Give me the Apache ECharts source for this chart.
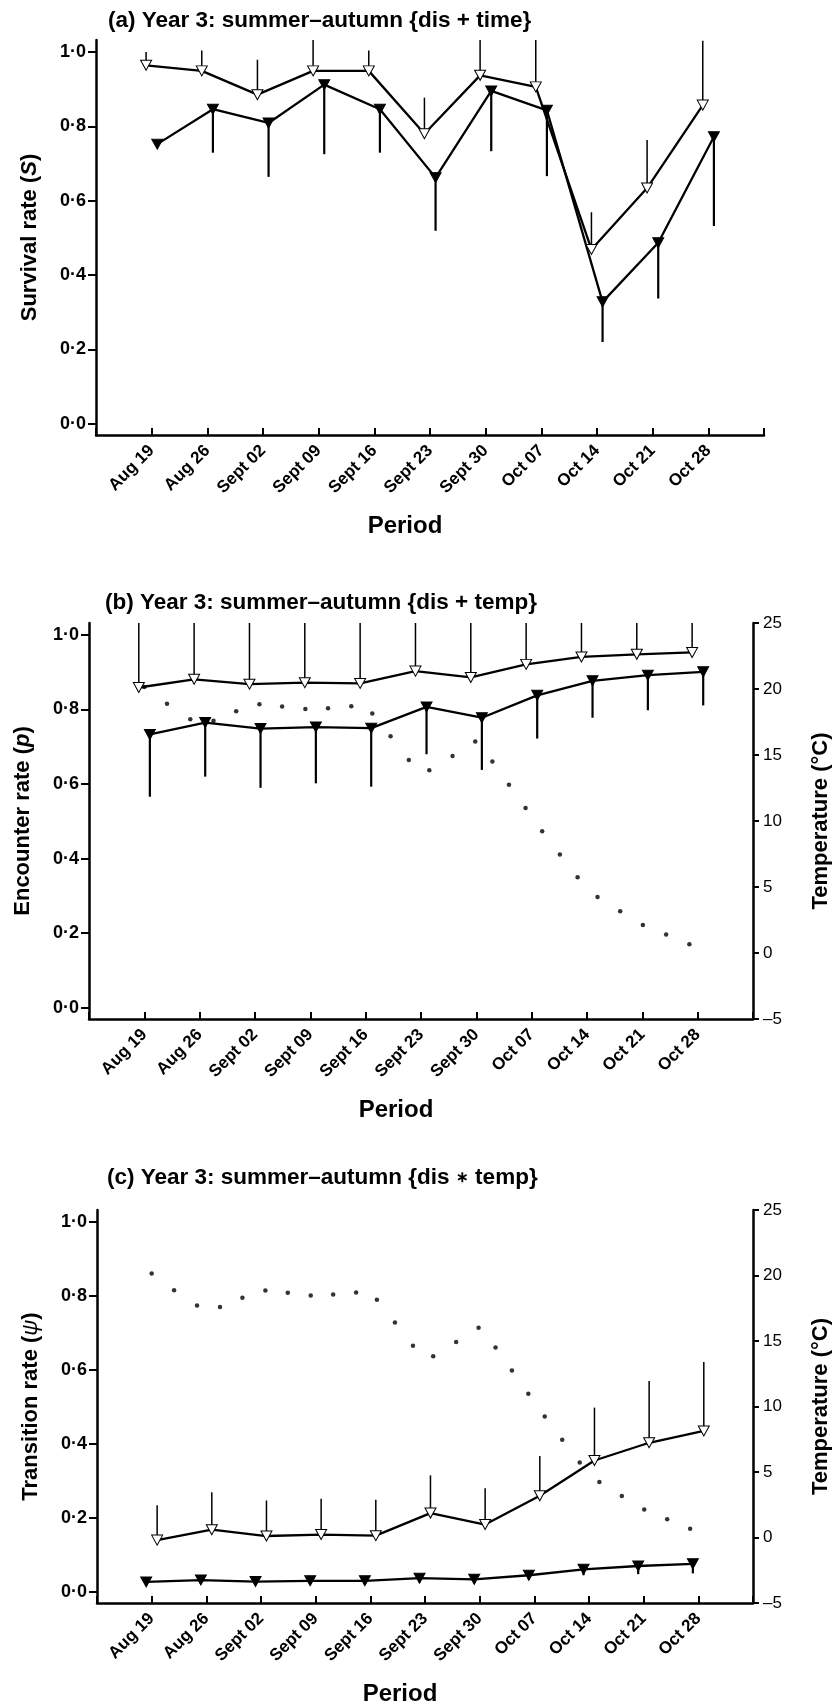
<!DOCTYPE html>
<html>
<head>
<meta charset="utf-8">
<title>Year 3: summer-autumn</title>
<script src="https://cdn.jsdelivr.net/npm/echarts@6.0.0/dist/echarts.min.js"></script>
<style>
  html, body { margin: 0; padding: 0; background: #fff; }
  #main { width: 840px; height: 1707px; }
</style>
</head>
<body>
<div id="main"></div>
<script>
// x axis categories (weekly periods)
var periods = ['Aug 19', 'Aug 26', 'Sept 02', 'Sept 09', 'Sept 16', 'Sept 23', 'Sept 30', 'Oct 07', 'Oct 14', 'Oct 21', 'Oct 28'];
var leftTicks = [0, 0.2, 0.4, 0.6, 0.8, 1.0];

// (a) survival rate S
var survOpen = [0.964, 0.949, 0.885, 0.949, 0.949, 0.780, 0.937, 0.906, 0.469, 0.634, 0.857];
var survOpenUp = [1.000, 1.004, 0.979, 1.040, 1.004, 0.877, 1.040, 1.040, 0.569, 0.763, 1.030];
var survFilled = [0.752, 0.846, 0.809, 0.912, 0.846, 0.662, 0.895, 0.843, 0.328, 0.487, 0.772];
var survFilledLo = [0.745, 0.729, 0.664, 0.725, 0.729, 0.519, 0.733, 0.666, 0.220, 0.337, 0.532];

// (b) encounter rate p
var encOpen = [0.859, 0.881, 0.868, 0.872, 0.870, 0.903, 0.886, 0.921, 0.941, 0.948, 0.953];
var encOpenUp = [1.040, 1.040, 1.040, 1.040, 1.040, 1.040, 1.040, 1.040, 1.040, 1.040, 1.040];
var encFilled = [0.733, 0.765, 0.749, 0.753, 0.750, 0.807, 0.778, 0.838, 0.877, 0.892, 0.901];
var encFilledLo = [0.566, 0.620, 0.590, 0.602, 0.593, 0.680, 0.638, 0.722, 0.778, 0.798, 0.811];

// (c) transition rate psi
var transOpen = [0.140, 0.168, 0.151, 0.155, 0.152, 0.213, 0.182, 0.260, 0.355, 0.403, 0.435];
var transOpenUp = [0.234, 0.269, 0.247, 0.252, 0.249, 0.315, 0.280, 0.367, 0.498, 0.570, 0.621];
var transFilled = [0.027, 0.032, 0.028, 0.030, 0.030, 0.037, 0.034, 0.045, 0.061, 0.070, 0.076];
var transFilledLo = [0.018, 0.022, 0.019, 0.021, 0.021, 0.026, 0.023, 0.032, 0.045, 0.048, 0.050];

// temperature (right axis), position in weeks after Aug 19
var tempWeek = [0, 0.41, 0.83, 1.25, 1.66, 2.08, 2.49, 2.91, 3.32, 3.74, 4.12, 4.45, 4.78, 5.15, 5.57, 5.98, 6.29, 6.59, 6.89, 7.19, 7.51, 7.83, 8.19, 8.60, 9.01, 9.43, 9.85];
var tempC = [20.15, 18.88, 17.71, 17.60, 18.31, 18.85, 18.68, 18.48, 18.55, 18.70, 18.15, 16.42, 14.63, 13.84, 14.93, 16.02, 14.50, 12.74, 10.98, 9.23, 7.46, 5.73, 4.24, 3.17, 2.13, 1.40, 0.66];

var FONT = '"Liberation Sans", Arial, Helvetica, sans-serif';

var myChart = echarts.init(document.getElementById('main'), null, { renderer: 'canvas' });

var panels = [
  { title: '(a) Year 3: summer\u2013autumn {dis + time}', tLeft: 108, tTop: 10,
    grid: { left: 96, top: 40, width: 668, height: 395 },
    yName: '{n|Survival rate (}{i|S}{n|)}',
    open: survOpen, openUp: survOpenUp, filled: survFilled, filledLo: survFilledLo,
    offOpen: -0.1, offFilled: 0.1, temp: false },
  { title: '(b) Year 3: summer\u2013autumn {dis + temp}', tLeft: 105, tTop: 592,
    grid: { left: 89, top: 623, width: 673, height: 396 },
    yName: '{n|Encounter rate (}{i|p}{n|)}',
    open: encOpen, openUp: encOpenUp, filled: encFilled, filledLo: encFilledLo,
    offOpen: -0.1, offFilled: 0.1, temp: true },
  { title: '(c) Year 3: summer\u2013autumn {dis {s|\u2217} temp}', tLeft: 107, tTop: 1167,
    grid: { left: 97, top: 1210, width: 667, height: 394 },
    yName: '{n|Transition rate (}{g|\u03c8}{n|)}',
    open: transOpen, openUp: transOpenUp, filled: transFilled, filledLo: transFilledLo,
    offOpen: 0.1, offFilled: -0.1, temp: true }
];

var axisLineStyle = { color: '#000', width: 2.5 };
var tickStyle = { color: '#000', width: 2 };

var titles = [], grids = [], xAxes = [], yAxes = [], series = [];

// vertical error bar drawn through the axes
function barRenderer(width) {
  return function (params, api) {
    var p0 = api.coord([api.value(0), api.value(1)]);
    var p1 = api.coord([api.value(0), api.value(2)]);
    return {
      type: 'line',
      shape: { x1: p0[0], y1: p0[1], x2: p1[0], y2: p1[1] },
      style: { stroke: '#000', lineWidth: width }
    };
  };
}

panels.forEach(function (p, i) {
  titles.push({
    text: p.title, left: p.tLeft, top: p.tTop, padding: 0,
    textStyle: {
      fontFamily: FONT, fontSize: 22.5, fontWeight: 'bold', color: '#000', lineHeight: 22,
      rich: { s: { fontFamily: FONT, fontSize: 15, fontWeight: 'bold', color: '#000', lineHeight: 22 } }
    }
  });
  grids.push(p.grid);

  xAxes.push({
    type: 'value', gridIndex: i, min: -1, max: 11, interval: 1,
    name: 'Period', nameLocation: 'middle', nameGap: 79,
    nameTextStyle: { fontFamily: FONT, fontSize: 24, fontWeight: 'bold', color: '#000', padding: [0, 50, 0, 0] },
    axisLine: { show: true, onZero: false, lineStyle: axisLineStyle },
    axisTick: { show: true, inside: true, length: 7, lineStyle: tickStyle },
    axisLabel: {
      rotate: 45, margin: 13, fontFamily: FONT, fontSize: 17, fontWeight: 'bold', color: '#000',
      formatter: function (v) { return periods[v] || ''; }
    },
    splitLine: { show: false }
  });

  var leftIdx = yAxes.length;
  yAxes.push({
    type: 'value', gridIndex: i, position: 'left', min: -0.03, max: 1.032,
    name: p.yName, nameLocation: 'middle', nameGap: 55, nameRotate: 90,
    nameTextStyle: {
      fontFamily: FONT, fontSize: 22, fontWeight: 'bold', color: '#000',
      rich: {
        n: { fontFamily: FONT, fontSize: 22, fontWeight: 'bold', color: '#000' },
        i: { fontFamily: FONT, fontSize: 22, fontWeight: 'bold', fontStyle: 'italic', color: '#000' },
        g: { fontFamily: FONT, fontSize: 22, fontWeight: 'normal', fontStyle: 'italic', color: '#000' }
      }
    },
    axisLine: { show: true, onZero: false, lineStyle: axisLineStyle },
    axisTick: { show: true, length: 8, customValues: leftTicks, lineStyle: tickStyle },
    axisLabel: {
      customValues: leftTicks, margin: 10, fontFamily: FONT, fontSize: 18, fontWeight: 'bold', color: '#000',
      formatter: function (v) { return v.toFixed(1).replace('.', '\u00b7'); }
    },
    splitLine: { show: false }
  });

  if (p.temp) {
    var rightIdx = yAxes.length;
    yAxes.push({
      type: 'value', gridIndex: i, position: 'right', min: -5, max: 25, interval: 5,
      name: 'Temperature (\u00b0C)', nameLocation: 'middle', nameGap: 57, nameRotate: 90,
      nameTextStyle: { fontFamily: FONT, fontSize: 22, fontWeight: 'bold', color: '#000' },
      axisLine: { show: true, onZero: false, lineStyle: axisLineStyle },
      axisTick: { show: true, length: 6, lineStyle: tickStyle },
      axisLabel: {
        margin: 10, fontFamily: FONT, fontSize: 17, color: '#000',
        formatter: function (v) { return v < 0 ? '\u2013' + (-v) : String(v); }
      },
      splitLine: { show: false }
    });
    series.push({
      type: 'scatter', xAxisIndex: i, yAxisIndex: rightIdx, z: 1,
      symbol: 'circle', symbolSize: 4.5, itemStyle: { color: '#000' },
      data: tempWeek.map(function (w, k) { return [w, tempC[k]]; })
    });
  }

  // error bars: open symbols upwards, filled symbols downwards
  series.push({
    type: 'custom', xAxisIndex: i, yAxisIndex: leftIdx, z: 2, clip: true,
    encode: { x: 0, y: [1, 2] },
    renderItem: barRenderer(1.5),
    data: periods.map(function (d, k) { return [k + p.offOpen, p.open[k], p.openUp[k]]; })
  });
  series.push({
    type: 'custom', xAxisIndex: i, yAxisIndex: leftIdx, z: 2, clip: true,
    encode: { x: 0, y: [1, 2] },
    renderItem: barRenderer(2.2),
    data: periods.map(function (d, k) { return [k + p.offFilled, p.filled[k], p.filledLo[k]]; })
  });

  series.push({
    type: 'line', xAxisIndex: i, yAxisIndex: leftIdx, z: 3,
    symbol: 'triangle', symbolRotate: 180, symbolSize: [11, 10], showAllSymbol: true,
    itemStyle: { color: '#fff', borderColor: '#000', borderWidth: 1 },
    lineStyle: { color: '#000', width: 2.3 },
    data: periods.map(function (d, k) { return [k + p.offOpen, p.open[k]]; })
  });
  series.push({
    type: 'line', xAxisIndex: i, yAxisIndex: leftIdx, z: 3,
    symbol: 'triangle', symbolRotate: 180, symbolSize: [11, 10], showAllSymbol: true,
    itemStyle: { color: '#000', borderColor: '#000', borderWidth: 1 },
    lineStyle: { color: '#000', width: 2.3 },
    data: periods.map(function (d, k) { return [k + p.offFilled, p.filled[k]]; })
  });
});

var option = {
  animation: false,
  backgroundColor: '#fff',
  title: titles,
  grid: grids,
  xAxis: xAxes,
  yAxis: yAxes,
  series: series
};

myChart.setOption(option, true);
</script>
</body>
</html>
